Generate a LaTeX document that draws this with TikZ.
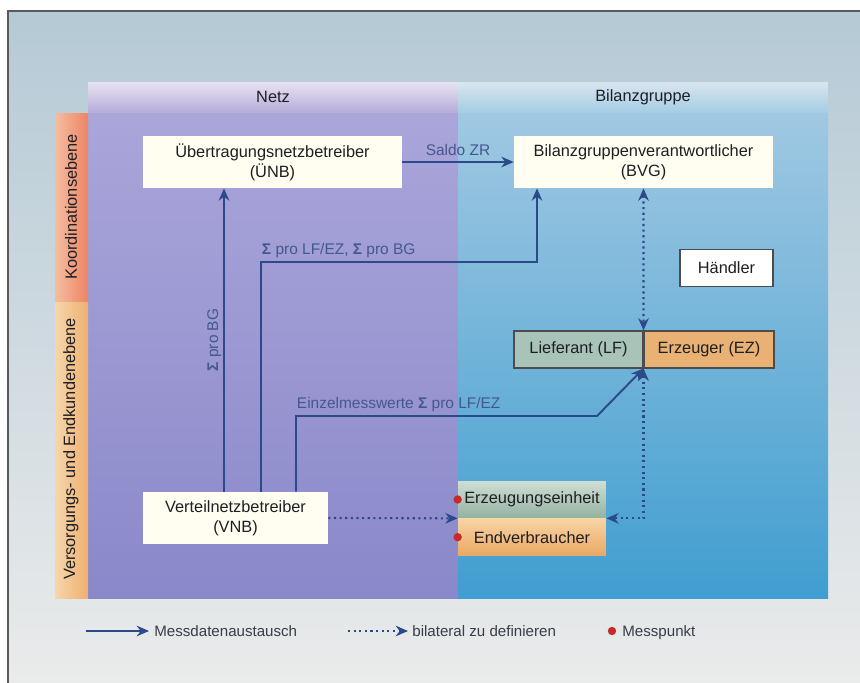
\documentclass[tikz,border=0pt]{standalone}
\usepackage{fontspec}
\setmainfont{Liberation Sans}
\usetikzlibrary{positioning}
\usetikzlibrary{arrows.meta}
\definecolor{pfeilblau}{HTML}{2C4A8A}
\definecolor{textblau}{HTML}{44588F}
\definecolor{boxtext}{HTML}{1E1E24}
\definecolor{legendtext}{HTML}{3A3C48}
\definecolor{lfgruen}{HTML}{A8C3B8}
\definecolor{ezorange}{HTML}{E9B274}
\definecolor{messrot}{HTML}{C62A2C}
\definecolor{grundoben}{RGB}{180,201,213}
\definecolor{grundmitte}{RGB}{205,216,222}
\definecolor{grundunten}{RGB}{234,235,235}
\definecolor{netzkopfoben}{RGB}{230,226,243}
\definecolor{netzkopfunten}{RGB}{182,172,216}
\definecolor{bgkopfoben}{RGB}{216,230,238}
\definecolor{bgkopfunten}{RGB}{164,204,228}
\definecolor{netzoben}{RGB}{170,166,218}
\definecolor{netzunten}{RGB}{138,136,202}
\definecolor{bgoben}{RGB}{160,200,226}
\definecolor{bgunten}{RGB}{64,158,208}
\definecolor{koordlinks}{RGB}{244,190,160}
\definecolor{koordrechts}{RGB}{236,132,100}
\definecolor{versorglinks}{RGB}{246,214,170}
\definecolor{versorgrechts}{RGB}{238,176,112}
\definecolor{erzoben}{RGB}{208,222,212}
\definecolor{erzunten}{RGB}{146,178,162}
\definecolor{endvoben}{RGB}{248,212,164}
\definecolor{endvunten}{RGB}{234,168,98}
\def\boxfont{\fontsize{9.3}{11.5}\selectfont}
\def\labelfont{\fontsize{8.8}{10}\selectfont}
\tikzset{
akteur/.style={fill=white!94!yellow, text=boxtext, align=center, inner sep=0pt,
	minimum width=#1, minimum height=1.04cm, font=\boxfont},
rolle/.style={draw=black!70, line width=0.6pt, text=boxtext, inner sep=0pt,
	minimum width=#1, minimum height=0.74cm, font=\boxfont},
anlage/.style 2 args={top color=#1, bottom color=#2, text=boxtext, inner sep=0pt,
	minimum width=2.96cm, minimum height=0.74cm, font=\boxfont},
fluss/.style={draw=pfeilblau, line width=1.1pt, -{Stealth[length=7pt,width=6pt]}},
bilateral/.style={draw=pfeilblau, line width=1.2pt, dotted},
spitze/.style={-{Stealth[length=7pt,width=6pt]}},
doppelspitze/.style={{Stealth[length=7pt,width=6pt]}-{Stealth[length=7pt,width=6pt]}},
beschriftung/.style={text=textblau, font=\labelfont, inner sep=1pt},
kopf/.style={text=boxtext, font=\boxfont},
ebene/.style={text=boxtext, font=\boxfont, rotate=90},
legende/.style={text=legendtext, font=\fontsize{8.6}{10}\selectfont, anchor=west, inner sep=0pt,
	text height=1.6ex, text depth=0.45ex},
messpunkt/.style={fill=messrot},
}

\begin{document}
\begin{tikzpicture}[x=0.02cm, y=-0.02cm]
\useasboundingbox (0,0) rectangle (860,683);

%Background and frame
\shade[top color=grundoben, middle color=grundmitte, bottom color=grundunten] (0,0) rectangle (860,683);
\fill[white] (0,0) rectangle (860,11);
\fill[white] (0,0) rectangle (8,683);
\draw[black!65, line width=0.8pt] (8,683) -- (8,11) -- (860,11);

%Columns
\shade[top color=netzkopfoben, bottom color=netzkopfunten] (88,82) rectangle (458,113);
\shade[top color=bgkopfoben, bottom color=bgkopfunten] (458,82) rectangle (828,113);
\shade[top color=netzoben, bottom color=netzunten] (88,113) rectangle (458,598);
\shade[top color=bgoben, bottom color=bgunten] (458,113) rectangle (828,598);

%Levels
\shade[left color=koordlinks, right color=koordrechts] (55,113) rectangle (88,302);
\shade[left color=versorglinks, right color=versorgrechts] (55,302) rectangle (88,598);

\node[kopf] (netz) at (273,97) {Netz};
\node[kopf] (bilanz) at (643,97) {Bilanzgruppe};
\node[ebene] (koord) at (71,207) {Koordinationsebene};
\node[ebene] (versorg) at (71,449) {Versorgungs- und Endkundenebene};

%Place the nodes
\node[akteur=5.18cm] (uenb) at (272.5,162) {Übertragungsnetzbetreiber\\(ÜNB)};
\node[akteur=5.18cm] (bvg) at (643.5,162) {Bilanzgruppenverantwortlicher\\(BVG)};
\node[akteur=3.7cm] (vnb) at (235.5,518) {Verteilnetzbetreiber\\(VNB)};
\node[rolle=1.86cm, fill=white] (haendler) at (726.5,268) {Händler};
\node[rolle=2.58cm, fill=lfgruen] (lf) at (578.5,349.5) {Lieferant (LF)};
\node[rolle=2.6cm, fill=ezorange, right=0pt of lf] (ez) {Erzeuger (EZ)};
\node[anlage={erzoben}{erzunten}] (erz) at (532,499.5) {Erzeugungseinheit};
\node[anlage={endvoben}{endvunten}, below=0pt of erz] (endv) {Endverbraucher};

%
\draw[fluss] (uenb.east) -- node[beschriftung, above=2pt] {Saldo ZR} (bvg.west);
\draw[fluss] (vnb.north -| 224,0) -- node[beschriftung, rotate=90, anchor=south] {\textbf{Σ} pro BG} (uenb.south -| 224,0);
\draw[fluss] (vnb.north -| 261,0) |- node[beschriftung, pos=0.5, anchor=south west, inner xsep=0pt, yshift=1pt] {\textbf{Σ} pro LF/EZ, \textbf{Σ} pro BG} (537,262) -- (bvg.south -| 537,0);
\draw[fluss] (vnb.north -| 296,0) |- node[beschriftung, pos=0.5, anchor=south west, inner xsep=0pt, yshift=1pt] {Einzelmesswerte \textbf{Σ} pro LF/EZ} (597,416) -- (lf.south east);

%
\draw[bilateral, doppelspitze] (bvg.south) -- (lf.north east);
\draw[bilateral, doppelspitze] (lf.south east) |- (erz.south east);
\draw[bilateral, spitze] (vnb.east) -- (erz.south west);

%
\fill[messpunkt] (erz.west) circle (4.2);
\fill[messpunkt] (endv.west) circle (4.2);

%Legend
\coordinate (l1a) at (86,631);
\coordinate (l1b) at (149,631);
\coordinate (l2a) at (348,631);
\coordinate (l2b) at (408,631);
\draw[fluss] (l1a) -- (l1b);
\node[legende] (l1) at (154,631) {Messdatenaustausch};
\draw[bilateral, spitze] (l2a) -- (l2b);
\node[legende] (l2) at (412,631) {bilateral zu definieren};
\fill[messpunkt] (612,631) circle (4.2);
\node[legende] (l3) at (622,631) {Messpunkt};

\end{tikzpicture}
\end{document}
